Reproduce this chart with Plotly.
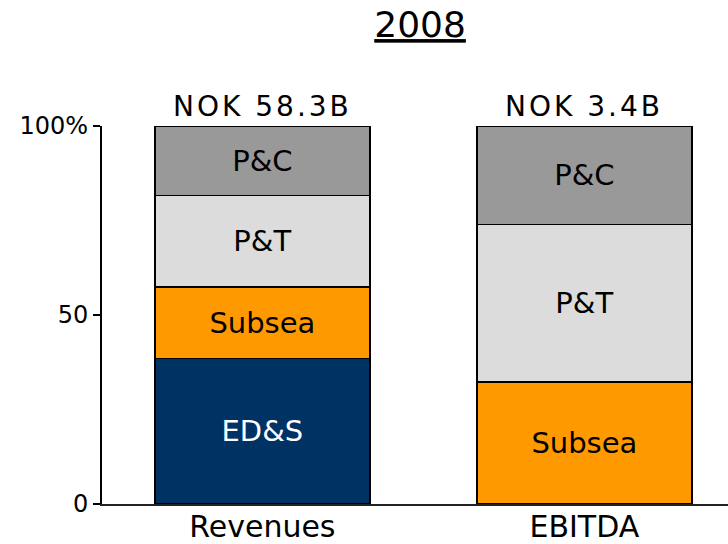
import plotly.graph_objects as go

categories = ["Revenues", "EBITDA"]
totals = ["NOK 58.3B", "NOK 3.4B"]
segments = ["ED&S", "Subsea", "P&T", "P&C"]
eds = [38.5, 0.0]
subsea = [18.9, 32.3]
pt = [24.2, 41.7]
pc = [18.4, 26.0]
colors = ["#003263", "#FF9900", "#DCDCDC", "#999999"]
text_colors = ["white", "black", "black", "black"]
y_ticks = [0, 50, 100]
y_tick_labels = ["0", "50", "100%"]

FONT = "DejaVu Sans"
fig = go.Figure()
for name, vals, col, tcol in zip(segments, [eds, subsea, pt, pc], colors, text_colors):
    fig.add_trace(go.Bar(
        x=categories, y=vals, name=name,
        marker=dict(color=col, line=dict(color="black", width=1.5)),
        text=[name if v > 0 else "" for v in vals],
        textposition="inside", insidetextanchor="middle", textangle=0,
        textfont=dict(family=FONT, size=29, color=tcol),
        constraintext="none",
    ))

for cat, tot in zip(categories, totals):
    fig.add_annotation(x=cat, y=100, yref="y", xref="x", yanchor="bottom",
                       text=f'<span style="letter-spacing:3px">{tot}</span>',
                       showarrow=False, yshift=1,
                       font=dict(family=FONT, size=28, color="black"))

fig.update_layout(
    width=728, height=544,
    barmode="stack", bargap=0.332,
    showlegend=False,
    plot_bgcolor="white", paper_bgcolor="white",
    margin=dict(l=102, r=0, t=126, b=40, autoexpand=False),
    title=dict(text="<u>2008</u>", x=0.577, xanchor="center", y=0.955, yanchor="middle",
               font=dict(family=FONT, size=36, color="black")),
    uniformtext=dict(mode=False),
)
fig.update_xaxes(range=[-0.498, 1.446], showline=True, linecolor="#222222", linewidth=2,
                 ticks="", automargin=False, ticklabelstandoff=-5,
                 tickfont=dict(family=FONT, size=30, color="black"))
fig.update_yaxes(range=[0, 100], tickvals=y_ticks, ticktext=y_tick_labels, automargin=False,
                 showline=True, linecolor="black", linewidth=2, showgrid=False, zeroline=False,
                 ticks="outside", ticklen=7, tickwidth=2, tickcolor="black",
                 tickfont=dict(family=FONT, size=24, color="black"))

fig.write_html("out.html", config={"displayModeBar": False},
               post_script="document.body.style.margin='0';document.body.style.overflow='hidden';")
